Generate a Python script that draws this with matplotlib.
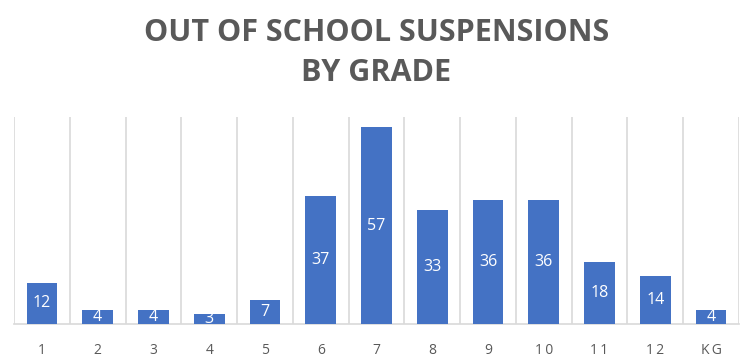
import matplotlib.pyplot as plt
import numpy as np

plt.rcParams['font.family'] = ['Open Sans', 'DejaVu Sans']

grades = ['1', '2', '3', '4', '5', '6', '7', '8', '9', '10', '11', '12', 'KG']
suspensions = [12, 4, 4, 3, 7, 37, 57, 33, 36, 36, 18, 14, 4]

blue = '#4472C4'
grey = '#595959'

fig = plt.figure(figsize=(7.53, 3.61), dpi=100)
ax = fig.add_axes([14 / 753, 37 / 361, 725 / 753, 207 / 361])

x = np.arange(len(grades))
bars = ax.bar(x, suspensions, width=0.55, color=blue, zorder=3)

for rect, v in zip(bars, suspensions):
    ax.text(rect.get_x() + rect.get_width() / 2, v / 2, str(v),
            ha='center', va='center', color='white', fontsize=11.5, zorder=4)

ax.set_xlim(-0.5, len(grades) - 0.5)
ax.set_ylim(0, 60)

for b in np.arange(-0.5, len(grades), 1.0):
    ax.axvline(b, color='#d9d9d9', lw=1.2, zorder=1)

ax.set_yticks([])
ax.set_xticks(x)
ax.set_xticklabels(['\u2009'.join(g) for g in grades], color=grey, fontsize=10)
ax.tick_params(axis='x', length=0, pad=14)
for s in ['top', 'left', 'right']:
    ax.spines[s].set_visible(False)
ax.spines['bottom'].set_color('#d9d9d9')
ax.spines['bottom'].set_linewidth(1.2)

fig.text(0.5, 0.853, 'OUT OF SCHOOL SUSPENSIONS\nBY GRADE', ha='center', va='center',
         fontsize=22, fontweight='bold', color=grey, linespacing=1.4)

fig.savefig('out.png', dpi=100)
